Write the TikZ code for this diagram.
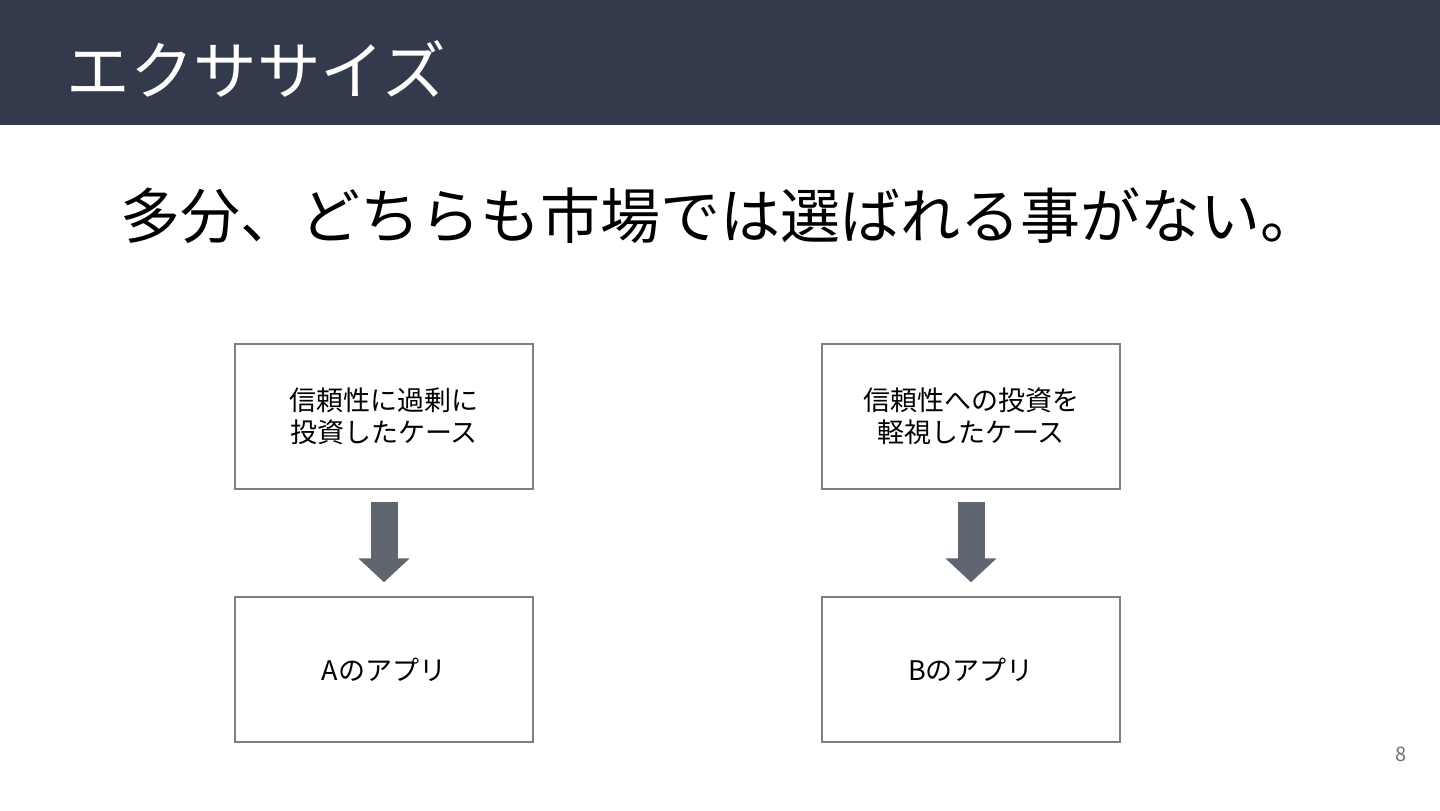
\documentclass[tikz,border=0pt]{standalone}
\usepackage{fontspec}
\setmainfont{Noto Sans CJK JP}
\usetikzlibrary{arrows.meta,calc}
\definecolor{headbg}{HTML}{323A4C}
\definecolor{arrowgray}{HTML}{5F6670}
\definecolor{boxline}{HTML}{7F7F7F}
\definecolor{pagegray}{HTML}{707070}
\tikzset{
  card/.style={draw=boxline, line width=0.75pt, fill=white, minimum width=149pt, minimum height=72.5pt, align=center, font=\fontsize{13.5}{16}\selectfont, inner sep=0pt},
  bigarrow/.style={draw=arrowgray, line width=13.5pt, -{Triangle[length=12pt,width=25pt]}, arrowgray}
}
\begin{document}
\begin{tikzpicture}[x=0.5pt,y=-0.5pt]
\useasboundingbox (0,0) rectangle (1440,810);
\fill[white] (0,0) rectangle (1440,810);
\fill[headbg] (0,0) rectangle (1440,125);
\node[anchor=west, text=white, font=\fontsize{31.8}{36}\selectfont, inner sep=0pt] (title) at (66,69) {エクササイズ};
\node[anchor=west, font=\fontsize{30}{34}\selectfont, inner sep=0pt] (lead) at (120,216) {多分、どちらも市場では選ばれる事がない。};
\node[card] (a1) at (384,416.5) {信頼性に過剰に\\投資したケース};
\node[card] (a2) at (384,669.5) {Aのアプリ};
\node[card] (b1) at (971,416.5) {信頼性への投資を\\軽視したケース};
\node[card] (b2) at (971,669.5) {Bのアプリ};
\draw[bigarrow] ($(a1.south)+(0,12)$) -- ($(a2.north)+(0,-14)$);
\draw[bigarrow] ($(b1.south)+(0,12)$) -- ($(b2.north)+(0,-14)$);
\node[text=pagegray, font=\fontsize{10}{11}\selectfont, inner sep=0pt] (page) at (1401,754) {8};
\end{tikzpicture}
\end{document}
